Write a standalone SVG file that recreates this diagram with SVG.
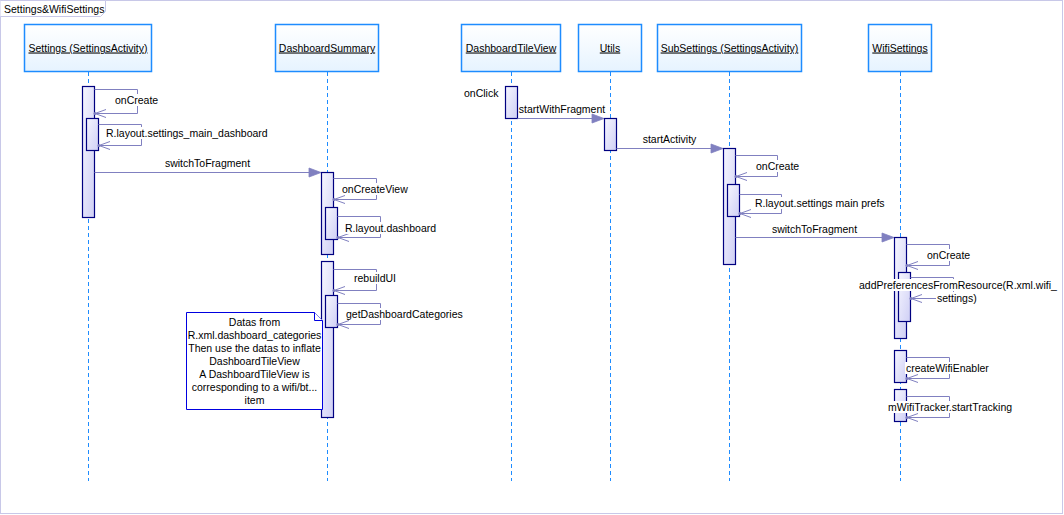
<svg xmlns="http://www.w3.org/2000/svg" width="1064" height="515" viewBox="0 0 1064 515">
<defs>
<linearGradient id="gNode" x1="0" y1="0" x2="0" y2="1"><stop offset="0" stop-color="#FFFFFF"/><stop offset="1" stop-color="#E6F3FF"/></linearGradient>
<linearGradient id="gAct" x1="0" y1="0" x2="1" y2="1"><stop offset="0" stop-color="#F6F6FF"/><stop offset="1" stop-color="#CFCFF5"/></linearGradient>
<marker id="open" viewBox="-12 -6 14 12" refX="0" refY="0" markerWidth="14" markerHeight="12" markerUnits="userSpaceOnUse" orient="auto">
<path d="M-11,-4 L0,0 L-11,4" fill="none" stroke="#8080C0" stroke-width="1"/>
<circle cx="0" cy="0" r="1.5" fill="#8080C0"/>
</marker>
<marker id="filled" viewBox="-13 -6 14 12" refX="0" refY="0" markerWidth="14" markerHeight="12" markerUnits="userSpaceOnUse" orient="auto">
<path d="M-12,-4.5 L0,0 L-12,4.5 Z" fill="#8080C0" stroke="#8080C0" stroke-width="0.8"/>
</marker>
</defs>
<style>
text{font-family:"Liberation Sans",Arial,sans-serif;font-size:10.5px;fill:#000}
.node rect{fill:url(#gNode);stroke:#1E8CFF;stroke-width:1.5}
.node text{text-anchor:middle;text-decoration:underline}
.life{stroke:#1E8CFF;stroke-width:1;stroke-dasharray:4,3;fill:none}
.act{fill:url(#gAct);stroke:#000080;stroke-width:1.2}
.msg{fill:none;stroke:#8080C0;stroke-width:1}
.self{fill:none;stroke:#8080C0;stroke-width:1;marker-end:url(#open)}
.call{fill:none;stroke:#8080C0;stroke-width:1;marker-end:url(#filled)}
.bg{fill:#FFFFFF}
.mid{text-anchor:middle}
.note{fill:#FFFFFF;stroke:#0000E0;stroke-width:1}
</style>
<g id="frame">
<rect x="0.5" y="0.5" width="1062" height="513" fill="#FFFFFF" stroke="#C8C8E8" stroke-width="1"/>
<path d="M0.5,0.5 H105.5 V11.5 L100.5,16.5 H0.5" fill="#FFFFFF" stroke="#C8C8E8" stroke-width="1"/>
<text x="4" y="12.5">Settings&amp;WifiSettings</text>
</g>
<g id="lifelines">
<line class="life" x1="88.5" y1="72" x2="88.5" y2="481"/>
<line class="life" x1="327.5" y1="72" x2="327.5" y2="481"/>
<line class="life" x1="511.5" y1="72" x2="511.5" y2="481"/>
<line class="life" x1="610.5" y1="72" x2="610.5" y2="481"/>
<line class="life" x1="729.5" y1="72" x2="729.5" y2="481"/>
<line class="life" x1="900.5" y1="72" x2="900.5" y2="481"/>
</g>
<g id="n_settings" class="node"><rect x="24.5" y="24.5" width="127" height="47"/><text x="88" y="51.5">Settings (SettingsActivity)</text></g>
<g id="n_dashboardsummary" class="node"><rect x="275.5" y="24.5" width="103" height="47"/><text x="327" y="51.5">DashboardSummary</text></g>
<g id="n_dashboardtileview" class="node"><rect x="461.5" y="24.5" width="99" height="47"/><text x="511" y="51.5">DashboardTileView</text></g>
<g id="n_utils" class="node"><rect x="578.5" y="24.5" width="63" height="47"/><text x="610" y="51.5">Utils</text></g>
<g id="n_subsettings" class="node"><rect x="657.5" y="24.5" width="144" height="47"/><text x="729.5" y="51.5">SubSettings (SettingsActivity)</text></g>
<g id="n_wifisettings" class="node"><rect x="868.5" y="24.5" width="63" height="47"/><text x="900" y="51.5">WifiSettings</text></g>
<g id="activations">
<rect class="act" x="82.5" y="86.5" width="12" height="131"/>
<rect class="act" x="86.5" y="118.5" width="12" height="32"/>
<rect class="act" x="321.5" y="172.5" width="12" height="82"/>
<rect class="act" x="325.5" y="207.5" width="12" height="32"/>
<rect class="act" x="321.5" y="261.5" width="12" height="156"/>
<rect class="act" x="325.5" y="295.5" width="12" height="32"/>
<rect class="act" x="505.5" y="86.5" width="12" height="32"/>
<rect class="act" x="604.5" y="118.5" width="12" height="32"/>
<rect class="act" x="723.5" y="148.5" width="12" height="116"/>
<rect class="act" x="727.5" y="184.5" width="12" height="32"/>
<rect class="act" x="894.5" y="237.5" width="12" height="101"/>
<rect class="act" x="898.5" y="272.5" width="12" height="49"/>
<rect class="act" x="894.5" y="350.5" width="12" height="32"/>
<rect class="act" x="894.5" y="389.5" width="12" height="32"/>
</g>
<g id="note">
<path class="note" d="M186.5,312.5 H314.5 L322.5,320.5 V409.5 H186.5 Z"/>
<path class="note" d="M314.5,312.5 V320.5 H322.5"/>
<text class="mid" x="254.5" y="326">Datas from</text>
<text class="mid" x="254.5" y="339">R.xml.dashboard_categories</text>
<text class="mid" x="254.5" y="352">Then use the datas to inflate</text>
<text class="mid" x="254.5" y="365">DashboardTileView</text>
<text class="mid" x="254.5" y="378">A DashboardTileView is</text>
<text class="mid" x="254.5" y="391">corresponding to a wifi/bt...</text>
<text class="mid" x="254.5" y="404">item</text>
</g>
<g id="connectors">
<path class="self" d="M94.5,89.5 H137.5 V113.5 H95"/>
<path class="self" d="M98.5,124.5 H141.5 V145.5 H99"/>
<path class="call" d="M94.5,172.5 H321"/>
<path class="self" d="M333.5,178.5 H376.5 V199.5 H334"/>
<path class="self" d="M337.5,216.5 H380.5 V237.5 H338"/>
<path class="self" d="M333.5,269.5 H376.5 V290.5 H334"/>
<path class="self" d="M337.5,303.5 H380.5 V324.5 H338"/>
<path class="call" d="M517.5,118.5 H604"/>
<path class="call" d="M616.5,148.5 H723"/>
<path class="self" d="M735.5,155.5 H777.5 V176.5 H736"/>
<path class="self" d="M739.5,194.5 H781.5 V213.5 H740"/>
<path class="call" d="M735.5,237.5 H894"/>
<path class="self" d="M906.5,244.5 H949.5 V265.5 H907"/>
<path class="self" d="M910.5,277.5 H953.5 V298.5 H911"/>
<path class="self" d="M906.5,357.5 H949.5 V378.5 H907"/>
<path class="self" d="M906.5,396.5 H949.5 V417.5 H907"/>
</g>
<g id="labels">
<rect class="bg" x="114" y="94" width="45" height="12"/><text x="115" y="104">onCreate</text>
<rect class="bg" x="105" y="127" width="164" height="12"/><text x="106" y="137">R.layout.settings_main_dashboard</text>
<text class="mid" x="207.5" y="167">switchToFragment</text>
<rect class="bg" x="341" y="183" width="68" height="12"/><text x="342" y="193">onCreateView</text>
<rect class="bg" x="344" y="222" width="93" height="12"/><text x="345" y="232">R.layout.dashboard</text>
<rect class="bg" x="353" y="272" width="45" height="12"/><text x="354" y="282">rebuildUI</text>
<rect class="bg" x="345" y="308" width="117" height="12"/><text x="346" y="318">getDashboardCategories</text>
<text x="464" y="97">onClick</text>
<text class="mid" x="562" y="113">startWithFragment</text>
<text class="mid" x="669.5" y="143">startActivity</text>
<rect class="bg" x="755" y="160" width="45" height="12"/><text x="756" y="170">onCreate</text>
<rect class="bg" x="754" y="197" width="131" height="12"/><text x="755" y="207">R.layout.settings main prefs</text>
<text class="mid" x="814.5" y="233">switchToFragment</text>
<rect class="bg" x="926" y="249" width="45" height="12"/><text x="927" y="259">onCreate</text>
<rect class="bg" x="858" y="279" width="196" height="12"/><text x="859" y="289">addPreferencesFromResource(R.xml.wifi_</text>
<rect class="bg" x="936" y="292" width="42" height="12"/><text x="937" y="302">settings)</text>
<rect class="bg" x="905" y="362" width="88" height="12"/><text x="906" y="372">createWifiEnabler</text>
<rect class="bg" x="887" y="401" width="124" height="12"/><text x="888" y="411">mWifiTracker.startTracking</text>
</g>
</svg>
